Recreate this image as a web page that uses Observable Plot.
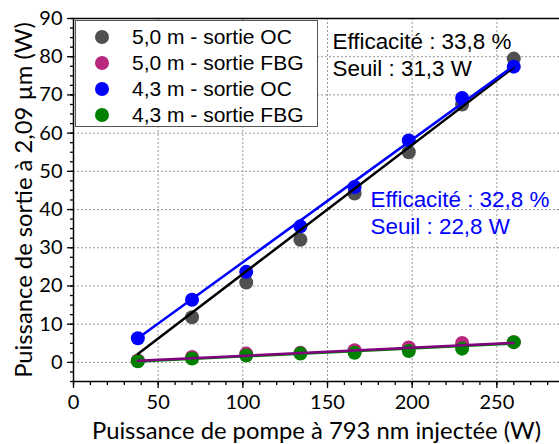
<!DOCTYPE html>
<html>
<head>
<meta charset="utf-8">
<script src="https://cdn.jsdelivr.net/npm/d3@7"></script>
<script src="https://cdn.jsdelivr.net/npm/@observablehq/plot@0.6"></script>
<style>
  html, body { margin: 0; padding: 0; background: white; }
  #wrap { position: relative; width: 559px; height: 444px; }
  #legend { position: absolute; left: 75px; top: 20px; width: 241px; height: 105px;
    border: 1.5px solid #555; background: white; font-family: "Liberation Sans", Arial, sans-serif; font-size: 21px; }
  .item { position: absolute; left: 0; height: 26px; }
  .dot { position: absolute; left: 19px; width: 14px; height: 14px; border-radius: 50%; }
  .lab { position: absolute; left: 56px; white-space: nowrap; line-height: 26px; top: 0; }
</style>
</head>
<body>
<div id="wrap"><div id="chart"></div><div id="legend"></div></div>
<script>
// ---- data ----
const pumpPower = [38, 70, 102, 134, 166, 198, 229.5, 260];
const oc50  = [0.4, 11.8, 20.9, 32.1, 44.2, 55.0, 67.5, 79.5];
const fbg50 = [0.5, 1.4, 2.3, 2.5, 3.2, 3.9, 5.1, 5.3];
const oc43  = [6.3, 16.4, 23.7, 35.6, 45.9, 58.1, 69.2, 77.4];
const fbg43 = [0.3, 1.0, 1.8, 2.3, 2.5, 3.0, 3.6, 5.3];

const fitX     = [38, 260];
const fitOC50  = [2.2, 77.2];
const fitOC43  = [6.3, 77.6];
const fitFBG50 = [0.4, 5.1];
const fitFBG43 = [0.25, 4.9];

const seriesNames = ["5,0 m - sortie OC", "5,0 m - sortie FBG", "4,3 m - sortie OC", "4,3 m - sortie FBG"];
const seriesColors = ["#505050", "#b8287f", "#0000ff", "#008000"];
const fitColors = ["#000000", "#0000ff", "#008000", "#800080"];

const xDomain = [0, 287];
const yDomain = [-5, 90];
const xMajor = [0, 50, 100, 150, 200, 250];
const xMinor = d3.range(0, 290, 10);
const yMajor = [0, 10, 20, 30, 40, 50, 60, 70, 80, 90];
const yMinor = d3.range(-5, 90.1, 2.5);
const xGrid = [50, 100, 150, 200, 250];
const yGrid = [0, 10, 20, 30, 40, 50, 60, 70, 80];

const xLabel = "Puissance de pompe à 793 nm injectée (W)";
const yLabel = "Puissance de sortie à 2,09 µm (W)";
const annotBlack = ["Efficacité : 33,8 %", "Seuil : 31,3 W"];
const annotBlue  = ["Efficacité : 32,8 %", "Seuil : 22,8 W"];

// ---- build tables ----
const seriesVals = [oc50, fbg50, oc43, fbg43];
const points = seriesVals.flatMap((vals, i) => vals.map((v, j) => ({x: pumpPower[j], y: v, s: i})));
const fits = [fitOC50, fitOC43, fitFBG43, fitFBG50].flatMap((vals, i) => vals.map((v, j) => ({x: fitX[j], y: v, s: i})));

const arial = "Liberation Sans, Arial, sans-serif";
const annot = (t, dx, dy, fill) => Plot.text([t], {frameAnchor: "top-left", dx, dy, textAnchor: "start", lineAnchor: "middle", fontSize: 22.4, fontFamily: arial, fill});

const chart = Plot.plot({
  width: 559, height: 444,
  marginLeft: 73, marginRight: 0, marginTop: 18, marginBottom: 63,
  x: {domain: xDomain},
  y: {domain: yDomain},
  style: {fontFamily: "Lato, sans-serif", fontSize: "20px", color: "black", background: "white", overflow: "visible"},
  marks: [
    Plot.gridX(xGrid, {stroke: "#999", strokeOpacity: 1, strokeDasharray: "2,2"}),
    Plot.gridY(yGrid, {stroke: "#999", strokeOpacity: 1, strokeDasharray: "2,2"}),
    Plot.axisX(xMinor, {tickSize: 4, tickFormat: () => "", label: null, strokeWidth: 1.3}),
    Plot.axisX(xMajor, {tickSize: 7, tickPadding: 6, label: null, strokeWidth: 1.3, fontSize: 20}),
    Plot.axisY(yMinor, {tickSize: 3, tickFormat: () => "", label: null, strokeWidth: 1.3}),
    Plot.axisY(yMajor, {tickSize: 6, tickPadding: 5, label: null, strokeWidth: 1.3, fontSize: 20}),
    Plot.ruleX([xDomain[0]], {strokeWidth: 1.5}),
    Plot.ruleY([yDomain[0]], {strokeWidth: 1.5}),
    Plot.ruleY([yDomain[1]], {strokeWidth: 1.5}),
    Plot.text([xLabel], {frameAnchor: "bottom", dy: 57, lineAnchor: "bottom", textAnchor: "middle", fontSize: 23.8}),
    Plot.text([yLabel], {frameAnchor: "left", dx: -49, rotate: -90, textAnchor: "middle", lineAnchor: "middle", fontSize: 23.8}),
    Plot.dot(points, {x: "x", y: "y", r: 7, fill: d => seriesColors[d.s], stroke: "none"}),
    Plot.line(fits, {x: "x", y: "y", z: "s", stroke: d => fitColors[d.s], strokeWidth: 2.5}),
    annot(annotBlack[0], 259, 23.5, "black"),
    annot(annotBlack[1], 259, 50.5, "black"),
    annot(annotBlue[0], 297, 181.5, "#0000ff"),
    annot(annotBlue[1], 297, 208, "#0000ff")
  ]
});
document.getElementById("chart").appendChild(chart);

// legend overlay
const leg = document.getElementById("legend");
seriesNames.forEach((name, i) => {
  const item = document.createElement("div");
  item.className = "item";
  item.style.top = (2.5 + i * 26) + "px";
  item.style.width = "100%";
  const dot = document.createElement("div");
  dot.className = "dot";
  dot.style.background = seriesColors[i];
  dot.style.top = "6px";
  const lab = document.createElement("div");
  lab.className = "lab";
  lab.textContent = name;
  item.appendChild(dot);
  item.appendChild(lab);
  leg.appendChild(item);
});
</script>
</body>
</html>
